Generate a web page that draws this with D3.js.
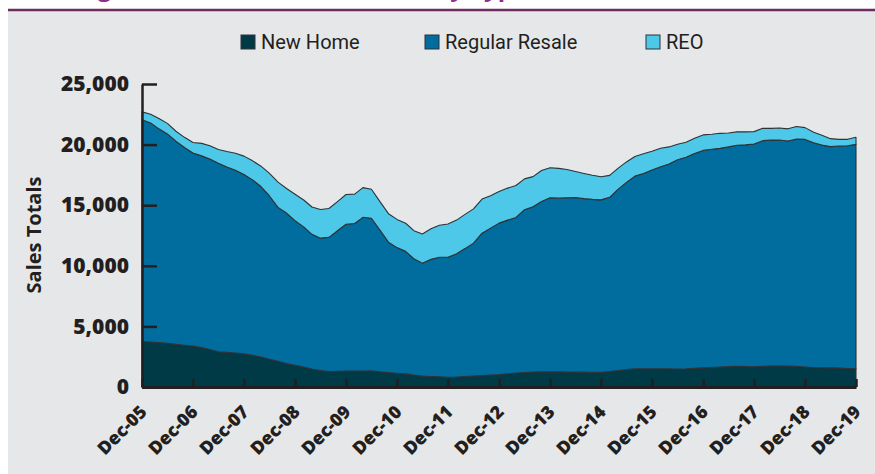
<!DOCTYPE html>
<html>
<head>
<meta charset="utf-8">
<script src="https://cdn.jsdelivr.net/npm/d3@7"></script>
<style>
  body { margin: 0; background: #fff; }
  svg { display: block; }
</style>
</head>
<body>
<div id="chart"></div>
<script>
// months after Dec-05, sampled every two months
const monthOffsets = d3.range(0, 169, 2);

const newHome = [3750, 3710, 3670, 3600, 3530, 3450, 3380, 3250, 3100, 2910, 2860, 2810, 2730, 2610, 2470, 2290,
  2120, 1940, 1790, 1650, 1490, 1360, 1270, 1290, 1320, 1310, 1310, 1330, 1260, 1190, 1130, 1080,
  980, 900, 870, 840, 810, 830, 870, 910, 940, 980, 1020, 1090, 1150, 1200, 1230, 1260,
  1250, 1245, 1240, 1230, 1225, 1220, 1210, 1270, 1350, 1440, 1510, 1510, 1510, 1510, 1505, 1490,
  1500, 1540, 1580, 1610, 1640, 1685, 1705, 1690, 1675, 1700, 1730, 1730, 1730, 1710, 1650, 1595,
  1585, 1575, 1560, 1530, 1510];

const regularResale = [18300, 18080, 17630, 17280, 16750, 16310, 15920, 15820, 15710, 15550, 15290, 15070, 14800, 14480, 14070, 13470,
  12700, 12410, 11940, 11560, 11110, 10920, 11080, 11600, 12110, 12180, 12690, 12590, 11690, 10760, 10370, 10110,
  9600, 9320, 9660, 9860, 9890, 10170, 10550, 10960, 11750, 12130, 12500, 12680, 12840, 13430, 13645, 14040,
  14370, 14335, 14370, 14410, 14315, 14260, 14230, 14380, 14950, 15440, 15890, 16110, 16390, 16660, 16895, 17260,
  17450, 17730, 17940, 18000, 18050, 18125, 18245, 18290, 18375, 18625, 18640, 18650, 18570, 18740, 18780, 18555,
  18375, 18255, 18325, 18370, 18510];

const reo = [650, 710, 850, 870, 820, 840, 870, 1030, 1090, 1140, 1280, 1410, 1520, 1570, 1680, 1860,
  2080, 2030, 2170, 2220, 2250, 2360, 2380, 2410, 2450, 2420, 2450, 2400, 2340, 2350, 2330, 2320,
  2320, 2400, 2520, 2650, 2750, 2770, 2820, 2830, 2820, 2670, 2610, 2640, 2640, 2540, 2485, 2560,
  2470, 2460, 2340, 2140, 2080, 1990, 1910, 1810, 1740, 1690, 1620, 1630, 1550, 1530, 1410, 1280,
  1250, 1260, 1280, 1240, 1240, 1150, 1100, 1070, 1020, 1015, 970, 990, 1000, 1050, 970, 870,
  820, 660, 550, 535, 580];

const seriesNames = ["New Home", "Regular Resale", "REO"];
const seriesColors = ["#003a47", "#016c9e", "#4dc8e8"];
const yTicks = [0, 5000, 10000, 15000, 20000, 25000];
const xTickLabels = ["Dec-05", "Dec-06", "Dec-07", "Dec-08", "Dec-09", "Dec-10", "Dec-11", "Dec-12",
  "Dec-13", "Dec-14", "Dec-15", "Dec-16", "Dec-17", "Dec-18", "Dec-19"];

const width = 875, height = 474;
const plot = { left: 142, right: 856, top: 84, bottom: 387 };
const start = new Date(2005, 11, 1);

const svg = d3.select("#chart").append("svg")
  .attr("width", width)
  .attr("height", height);

svg.append("rect")
  .attr("x", 8).attr("y", 11)
  .attr("width", width - 8).attr("height", height - 11)
  .attr("fill", "#e6e7e9");

svg.append("line")
  .attr("x1", 8).attr("x2", width)
  .attr("y1", 10).attr("y2", 10)
  .attr("stroke", "#6e2c5e")
  .attr("stroke-width", 2.5);

// title sits above the frame in the source, only its descenders show
svg.append("text")
  .attr("x", 527).attr("y", -4)
  .attr("text-anchor", "end")
  .style("font-family", "'Open Sans'")
  .style("font-weight", "bold")
  .style("font-size", "24px")
  .attr("fill", "#8e2e8c")
  .text("Housing Market Home Sales Totals by Type");

const rows = monthOffsets.map((m, i) => ({
  date: d3.timeMonth.offset(start, m),
  "New Home": newHome[i],
  "Regular Resale": regularResale[i],
  "REO": reo[i]
}));

const xScale = d3.scaleTime()
  .domain([start, d3.timeMonth.offset(start, 168)])
  .range([plot.left, plot.right]);

const yScale = d3.scaleLinear()
  .domain([0, 25000])
  .range([plot.bottom, plot.top]);

const stack = d3.stack().keys(seriesNames);
const layers = stack(rows);

const area = d3.area()
  .x(d => xScale(d.data.date))
  .y0(d => yScale(d[0]))
  .y1(d => yScale(d[1]));

svg.append("g")
  .selectAll("path")
  .data(layers)
  .join("path")
    .attr("d", area)
    .attr("fill", (d, i) => seriesColors[i])
    .attr("stroke", "#2f3236")
    .attr("stroke-width", 1.1)
    .attr("stroke-linejoin", "round");

// y axis
const yAxis = d3.axisLeft(yScale)
  .tickValues(yTicks)
  .tickSizeInner(-15)
  .tickSizeOuter(0)
  .tickPadding(13)
  .tickFormat(d3.format(","));

const yg = svg.append("g")
  .attr("transform", `translate(${plot.left},0)`)
  .call(yAxis);

yg.select(".domain").attr("stroke", "#231f20").attr("stroke-width", 2.5);
yg.selectAll(".tick line").attr("stroke", "#231f20").attr("stroke-width", 2.5);
yg.selectAll(".tick text")
  .attr("fill", "#231f20")
  .style("font-family", "'Open Sans'")
  .style("font-weight", "800")
  .style("font-size", "21px");

// x axis
const xTickDates = xTickLabels.map((l, i) => d3.timeMonth.offset(start, i * 12));

const xAxis = d3.axisBottom(xScale)
  .tickValues(xTickDates)
  .tickSizeInner(-8)
  .tickSizeOuter(0)
  .tickFormat("");

const xg = svg.append("g")
  .attr("transform", `translate(0,${plot.bottom})`)
  .call(xAxis);

xg.select(".domain").attr("stroke", "#231f20").attr("stroke-width", 3);
xg.selectAll(".tick line").attr("stroke", "#231f20").attr("stroke-width", 2.5);

svg.append("g")
  .selectAll("text")
  .data(xTickDates)
  .join("text")
    .attr("transform", d => `translate(${xScale(d) + 6},413) rotate(-45)`)
    .attr("text-anchor", "end")
    .attr("fill", "#231f20")
    .style("font-family", "'Open Sans'")
    .style("font-weight", "800")
    .style("font-size", "18px")
    .text((d, i) => xTickLabels[i]);

svg.append("text")
  .attr("transform", `translate(41,235) rotate(-90)`)
  .attr("text-anchor", "middle")
  .attr("fill", "#231f20")
  .style("font-family", "'Open Sans'")
  .style("font-weight", "bold")
  .style("font-size", "20px")
  .text("Sales Totals");

// legend
const legendX = [241, 425, 646];
const legend = svg.append("g")
  .selectAll("g")
  .data(seriesNames)
  .join("g")
    .attr("transform", (d, i) => `translate(${legendX[i]},35)`);

legend.append("rect")
  .attr("width", 14).attr("height", 14)
  .attr("fill", (d, i) => seriesColors[i])
  .attr("stroke", "#2f3236")
  .attr("stroke-width", 1);

legend.append("text")
  .attr("x", 20).attr("y", 14)
  .attr("fill", "#231f20")
  .style("font-family", "Roboto")
  .style("font-size", "20px")
  .text(d => d);
</script>
</body>
</html>
